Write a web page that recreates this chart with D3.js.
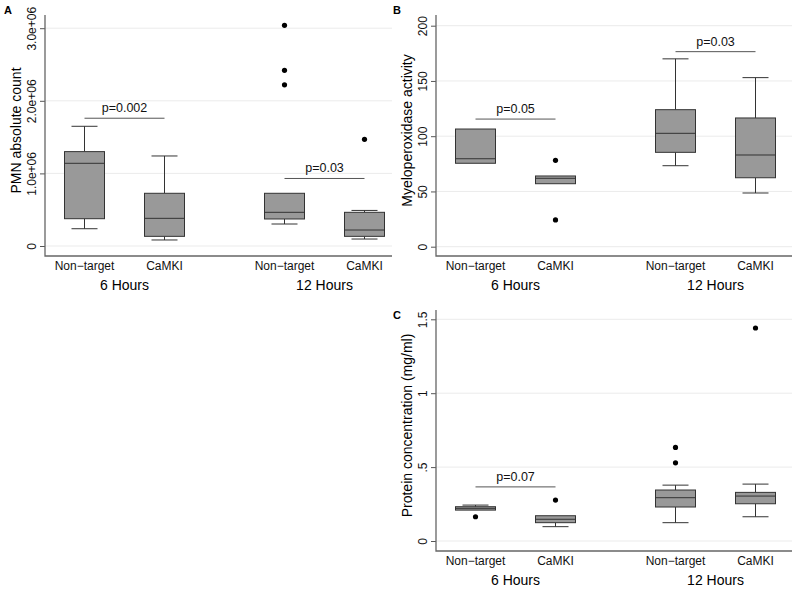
<!DOCTYPE html>
<html><head><meta charset="utf-8">
<script src="https://cdn.jsdelivr.net/npm/d3@7"></script>
<style>body{margin:0;background:#fff}svg{display:block;font-family:"Liberation Sans",Arial,Helvetica,sans-serif}</style>
</head><body><svg id="c" width="800" height="589"></svg>
<script>
// categories
const treatments = ["Non\u2212target","CaMKI","Non\u2212target","CaMKI"];
const timeGroups = ["6 Hours","12 Hours"];
const slots = [0,1,2.5,3.5];

// [lower whisker, q1, median, q3, upper whisker]
const pmnStats = [
  [0.238e6, 0.376e6, 1.139e6, 1.30e6, 1.649e6],
  [0.083e6, 0.133e6, 0.381e6, 0.726e6, 1.24e6],
  [0.303e6, 0.372e6, 0.464e6, 0.726e6, 0.726e6],
  [0.096e6, 0.133e6, 0.22e6, 0.464e6, 0.49e6]
];
const pmnOutliers = [[],[],[3.04e6,2.42e6,2.22e6],[1.47e6]];
const pmnTicks = [0,1e6,2e6,3e6];
const pmnTickLabels = ["0","1.0e+06","2.0e+06","3.0e+06"];
const pmnP = [{a:0,b:1,y:1.76e6,t:"p=0.002"},{a:2,b:3,y:0.93e6,t:"p=0.03"}];

const mpoStats = [
  [75.5, 75.5, 79.6, 106.5, 106.5],
  [57, 57, 61.9, 64, 64],
  [73.3, 85.4, 102.6, 124, 170],
  [48.6, 62.4, 83, 116.5, 153]
];
const mpoOutliers = [[],[78.2,24.2],[],[]];
const mpoTicks = [0,50,100,150,200];
const mpoTickLabels = ["0","50","100","150","200"];
const mpoP = [{a:0,b:1,y:115.5,t:"p=0.05"},{a:2,b:3,y:176.5,t:"p=0.03"}];

const protStats = [
  [0.209, 0.209, 0.221, 0.232, 0.243],
  [0.097, 0.124, 0.147, 0.171, 0.171],
  [0.124, 0.23, 0.293, 0.345, 0.378],
  [0.164, 0.252, 0.304, 0.329, 0.385]
];
const protOutliers = [[0.164],[0.277],[0.633,0.529],[1.441]];
const protTicks = [0,0.5,1,1.5];
const protTickLabels = ["0",".5","1","1.5"];
const protP = [{a:0,b:1,y:0.366,t:"p=0.07"}];

const svg = d3.select("#c");

function panel(o){
  const g = svg.append("g");
  const y = d3.scaleLinear().domain(o.domain).range(o.range);
  const x = d3.scaleLinear().domain([0,3.5]).range([o.axisX+39.5,o.axisX+319.5]);
  // gridlines
  g.selectAll("line.grid").data(o.ticks).join("line")
    .attr("x1",o.axisX).attr("x2",o.right).attr("y1",d=>y(d)).attr("y2",d=>y(d))
    .attr("stroke","#ebebeb").attr("stroke-width",1);
  // axis
  const ax = g.append("g").attr("transform",`translate(${o.axisX},0)`)
    .call(d3.axisLeft(y).tickValues(o.ticks).tickFormat((d,i)=>o.tickLabels[i]).tickSize(5).tickPadding(3));
  ax.select(".domain").remove();
  ax.selectAll(".tick line").attr("stroke","#555");
  ax.selectAll(".tick text").attr("font-size","12px").attr("fill","#111")
    .attr("text-anchor","middle").attr("transform","rotate(-90)")
    .attr("x",0).attr("y",-9).attr("dy","0");
  g.append("path").attr("d",`M${o.axisX},${o.top}V${o.bottom}H${o.right}`)
    .attr("fill","none").attr("stroke","#666").attr("stroke-width",1.3);
  // boxes
  const bw = 40, cw = 26;
  o.stats.forEach((s,i)=>{
    const cx = x(slots[i]);
    const bg = g.append("g");
    bg.append("line").attr("x1",cx).attr("x2",cx).attr("y1",y(s[3])).attr("y2",y(s[4])).attr("stroke","#333");
    bg.append("line").attr("x1",cx).attr("x2",cx).attr("y1",y(s[1])).attr("y2",y(s[0])).attr("stroke","#333");
    if (s[4]>s[3]) bg.append("line").attr("x1",cx-cw/2).attr("x2",cx+cw/2).attr("y1",y(s[4])).attr("y2",y(s[4])).attr("stroke","#333");
    if (s[0]<s[1]) bg.append("line").attr("x1",cx-cw/2).attr("x2",cx+cw/2).attr("y1",y(s[0])).attr("y2",y(s[0])).attr("stroke","#333");
    bg.append("rect").attr("x",cx-bw/2).attr("width",bw).attr("y",y(s[3])).attr("height",y(s[1])-y(s[3]))
      .attr("fill","#999").attr("stroke","#333").attr("stroke-width",1);
    bg.append("line").attr("x1",cx-bw/2).attr("x2",cx+bw/2).attr("y1",y(s[2])).attr("y2",y(s[2])).attr("stroke","#333");
    bg.selectAll("circle").data(o.outliers[i]).join("circle")
      .attr("cx",cx).attr("cy",d=>y(d)).attr("r",2.6).attr("fill","#000");
  });
  // p-values
  o.p.forEach(p=>{
    g.append("line").attr("x1",x(slots[p.a])).attr("x2",x(slots[p.b])).attr("y1",y(p.y)).attr("y2",y(p.y))
      .attr("stroke","#555").attr("stroke-width",1);
    g.append("text").attr("x",(x(slots[p.a])+x(slots[p.b]))/2).attr("y",y(p.y)-6)
      .attr("text-anchor","middle").attr("font-size","12.5px").attr("fill","#111").text(p.t);
  });
  // category labels
  treatments.forEach((t,i)=>{
    g.append("text").attr("x",x(slots[i])).attr("y",o.bottom+14).attr("text-anchor","middle")
      .attr("font-size","12px").attr("fill","#111").text(t);
  });
  timeGroups.forEach((t,j)=>{
    g.append("text").attr("x",(x(slots[2*j])+x(slots[2*j+1]))/2).attr("y",o.bottom+34).attr("text-anchor","middle")
      .attr("font-size","14px").attr("fill","#000").text(t);
  });
  // y title
  g.append("text").attr("transform",`translate(${o.axisX-24},${(o.top+o.bottom)/2-5}) rotate(-90)`)
    .attr("text-anchor","middle").attr("font-size","14px").attr("fill","#000").text(o.title);
  // panel letter
  g.append("text").attr("x",o.letterX).attr("y",o.letterY).attr("font-size","11px").attr("font-weight","bold")
    .attr("fill","#000").text(o.letter);
}

panel({axisX:45,right:392,top:15,bottom:256,domain:[0,3e6],range:[246,28.2],
  ticks:pmnTicks,tickLabels:pmnTickLabels,stats:pmnStats,outliers:pmnOutliers,p:pmnP,
  title:"PMN absolute count",letter:"A",letterX:4,letterY:14});
panel({axisX:436,right:792,top:15,bottom:256,domain:[0,200],range:[246.7,25.7],
  ticks:mpoTicks,tickLabels:mpoTickLabels,stats:mpoStats,outliers:mpoOutliers,p:mpoP,
  title:"Myeloperoxidase activity",letter:"B",letterX:393,letterY:14});
panel({axisX:436,right:792,top:310,bottom:551,domain:[0,1.5],range:[541,319.3],
  ticks:protTicks,tickLabels:protTickLabels,stats:protStats,outliers:protOutliers,p:protP,
  title:"Protein concentration (mg/ml)",letter:"C",letterX:393,letterY:319});
</script></body></html>
